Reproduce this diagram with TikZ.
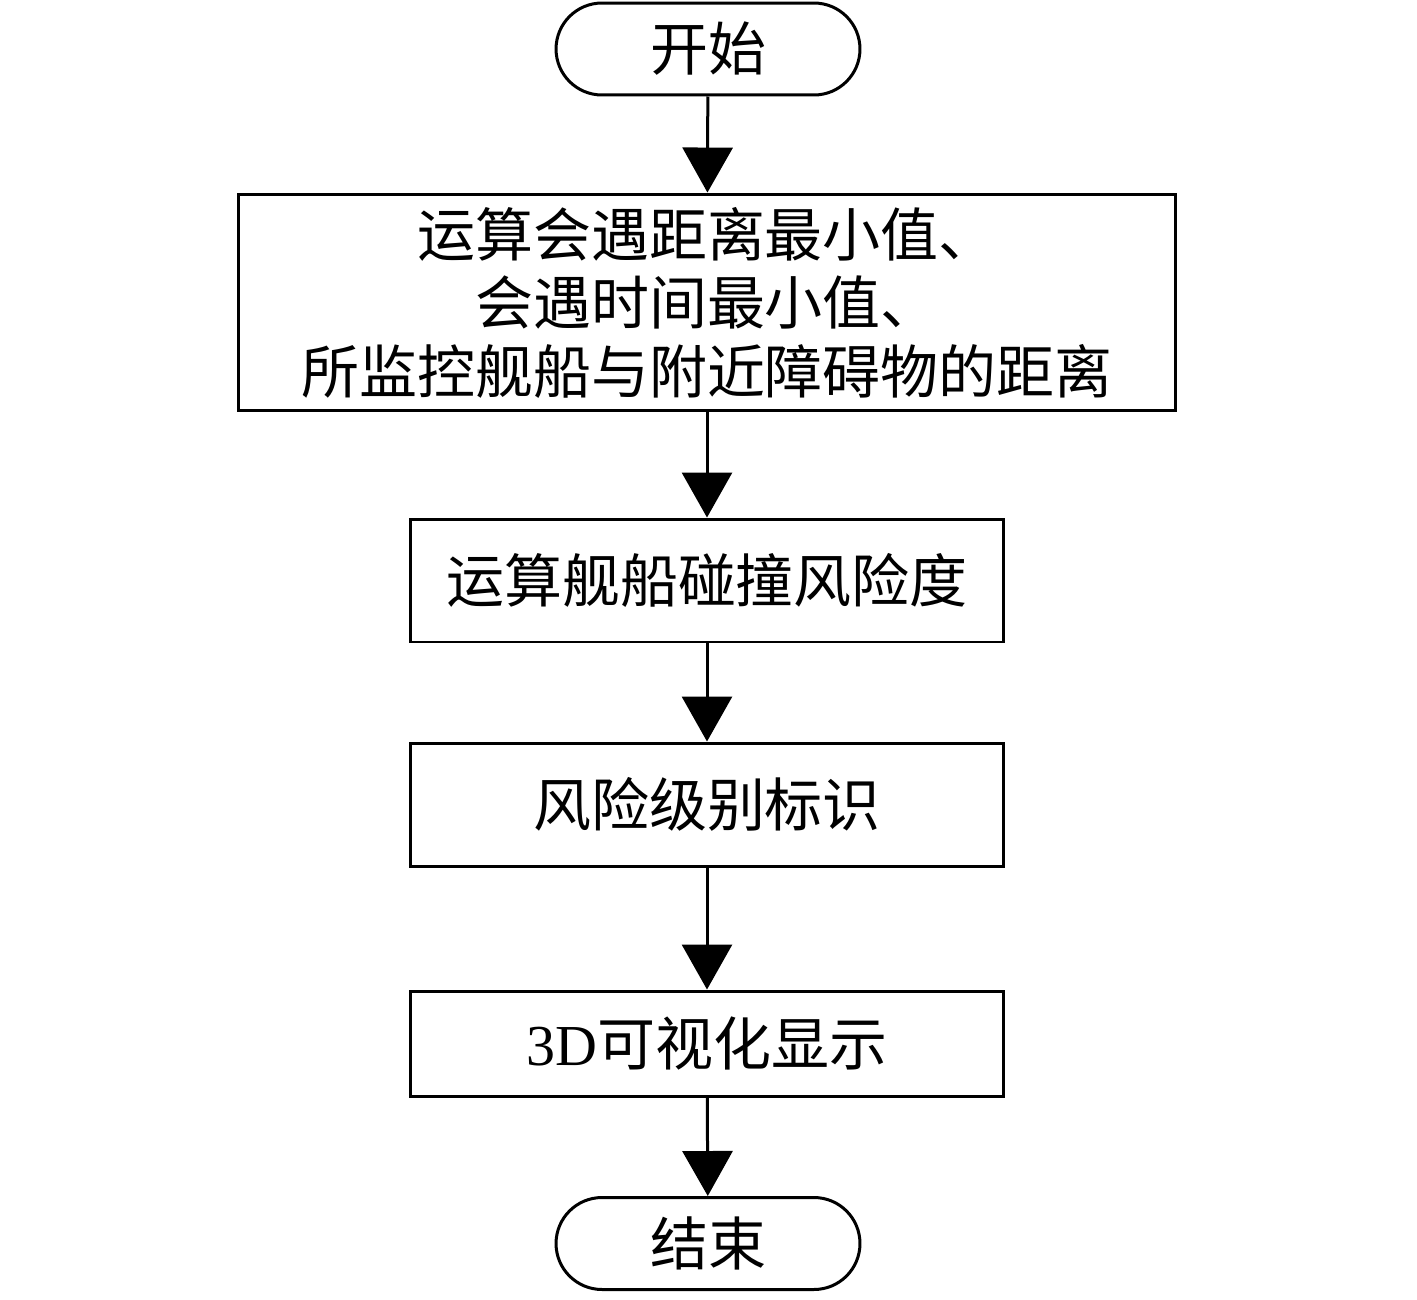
\documentclass[tikz,border=0pt]{standalone}
\usepackage{fontspec}
\setmainfont{Liberation Serif}
\newfontfamily\cjk{Noto Sans CJK SC}
\usetikzlibrary{arrows.meta,shapes.misc}
\tikzset{
  box/.style={draw, line width=0.06cm, rectangle, align=center, inner sep=0pt,
    font=\cjk\fontsize{33pt}{39pt}\selectfont},
  term/.style={draw, line width=0.06cm, rounded rectangle, inner sep=0pt,
    minimum width=6.08cm, minimum height=1.84cm,
    font=\cjk\fontsize{33pt}{39pt}\selectfont},
  arr/.style={line width=0.06cm, -{Triangle[length=0.9cm,width=1cm]}}
}
\begin{document}
\begin{tikzpicture}[x=0.02cm,y=-0.02cm]
\useasboundingbox (0,0) rectangle (1417,1299);
\node[term] (start) at (708,49) {开始};
\node[box, minimum width=18.76cm, minimum height=4.34cm] (b1) at (707,302.5)
  {运算会遇距离最小值、\\会遇时间最小值、\\所监控舰船与附近障碍物的距离};
\node[box, minimum width=11.88cm, minimum height=2.46cm] (b2) at (707,580.5) {运算舰船碰撞风险度};
\node[box, minimum width=11.88cm, minimum height=2.46cm] (b3) at (707,804.5) {风险级别标识};
\node[box, minimum width=11.88cm, minimum height=2.1cm] (b4) at (707,1043.5) {{\rmfamily 3D}可视化显示};
\node[term] (end) at (708,1243.5) {结束};
\draw[arr] (start) -- (b1);
\draw[arr] (b1) -- (b2);
\draw[arr] (b2) -- (b3);
\draw[arr] (b3) -- (b4);
\draw[arr] (b4) -- (end);
\end{tikzpicture}
\end{document}
